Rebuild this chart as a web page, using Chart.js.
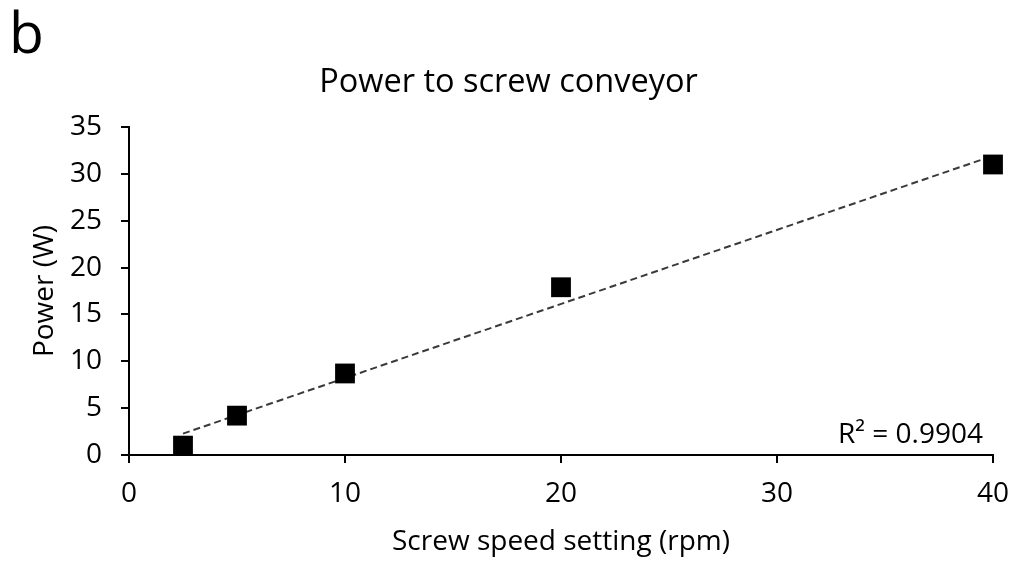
<!DOCTYPE html>
<html>
<head>
<meta charset="utf-8">
<script src="https://cdn.jsdelivr.net/npm/chart.js@4"></script>
<style>
  html, body { margin: 0; padding: 0; background: #fff; }
  #chart-div { width: 1017px; height: 564px; }
</style>
</head>
<body>
<div id="chart-div"><canvas id="myChart"></canvas></div>
<script>
// screw speed (rpm) and measured power (W)
const speeds = [2.5, 5, 10, 20, 40];
const powers = [1.0, 4.2, 8.7, 17.9, 31.0];
const xTicks = [0, 10, 20, 30, 40];
const yTicks = [0, 5, 10, 15, 20, 25, 30, 35];
const rSquared = "0.9904";

const FONT = "'Open Sans', sans-serif";

// least squares line through the measurements
function linearFit(xs, ys) {
  const n = xs.length;
  const mx = xs.reduce((a, b) => a + b, 0) / n;
  const my = ys.reduce((a, b) => a + b, 0) / n;
  let sxy = 0, sxx = 0;
  for (let i = 0; i < n; i++) {
    sxy += (xs[i] - mx) * (ys[i] - my);
    sxx += (xs[i] - mx) * (xs[i] - mx);
  }
  const slope = sxy / sxx;
  return { slope: slope, intercept: my - slope * mx };
}

const fit = linearFit(speeds, powers);
const xFirst = speeds[0];
const xLast = speeds[speeds.length - 1];
const trend = [
  { x: xFirst, y: fit.intercept + fit.slope * xFirst },
  { x: xLast, y: fit.intercept + fit.slope * xLast }
];

// panel letter and R² note
const extras = {
  id: "extras",
  afterDraw(chart) {
    const ctx = chart.ctx;
    const area = chart.chartArea;
    ctx.save();
    ctx.fillStyle = "#000";
    ctx.font = "57px " + FONT;
    ctx.textAlign = "left";
    ctx.textBaseline = "alphabetic";
    ctx.fillText("b", 9, 53);
    ctx.font = "28px " + FONT;
    ctx.textAlign = "right";
    ctx.fillText("R² = " + rSquared, area.right - 10, area.bottom - 12);
    ctx.restore();
  }
};

const canvas = document.getElementById("myChart");

new Chart(canvas, {
  type: "scatter",
  data: {
    datasets: [
      {
        label: "Power",
        data: speeds.map((s, i) => ({ x: s, y: powers[i] })),
        pointStyle: "rect",
        pointRadius: 14,
        pointHoverRadius: 14,
        backgroundColor: "#000000",
        borderColor: "#000000",
        borderWidth: 0,
        clip: false,
        order: 0
      },
      {
        label: "Linear fit",
        type: "line",
        data: trend,
        borderColor: "#3a3a3a",
        borderWidth: 2,
        borderDash: [7, 4],
        pointRadius: 0,
        fill: false,
        tension: 0,
        clip: false,
        order: 1
      }
    ]
  },
  options: {
    responsive: true,
    maintainAspectRatio: false,
    animation: false,
    layout: { padding: 0 },
    plugins: {
      legend: { display: false },
      tooltip: { enabled: false },
      title: {
        display: true,
        text: "Power to screw conveyor",
        color: "#000",
        font: { family: FONT, size: 32.5, weight: "normal" },
        padding: { top: 63, bottom: 25 }
      }
    },
    scales: {
      x: {
        type: "linear",
        min: 0,
        max: 40,
        afterBuildTicks: (scale) => { scale.ticks = xTicks.map(v => ({ value: v })); },
        afterFit: (scale) => {
          scale.height = 109;
          scale.paddingLeft = 0;
          scale.paddingRight = 24;
        },
        grid: { display: true, drawOnChartArea: false, drawTicks: true, tickLength: 8, color: "#000", lineWidth: 2 },
        border: { display: true, color: "#000", width: 2 },
        ticks: { color: "#000", font: { family: FONT, size: 28 }, padding: 14, maxRotation: 0 },
        title: {
          display: true,
          text: "Screw speed setting (rpm)",
          color: "#000",
          font: { family: FONT, size: 28 },
          padding: { top: 0, bottom: 5 }
        }
      },
      y: {
        type: "linear",
        min: 0,
        max: 35,
        afterBuildTicks: (scale) => { scale.ticks = yTicks.map(v => ({ value: v })); },
        afterFit: (scale) => { scale.width = 129; },
        grid: { display: true, drawOnChartArea: false, drawTicks: true, tickLength: 8, color: "#000", lineWidth: 2 },
        border: { display: true, color: "#000", width: 2 },
        ticks: { color: "#000", font: { family: FONT, size: 28 }, padding: 19 },
        title: {
          display: true,
          text: "Power (W)",
          color: "#000",
          font: { family: FONT, size: 28 },
          padding: { top: 28, bottom: 0 }
        }
      }
    }
  },
  plugins: [extras]
});
</script>
</body>
</html>
